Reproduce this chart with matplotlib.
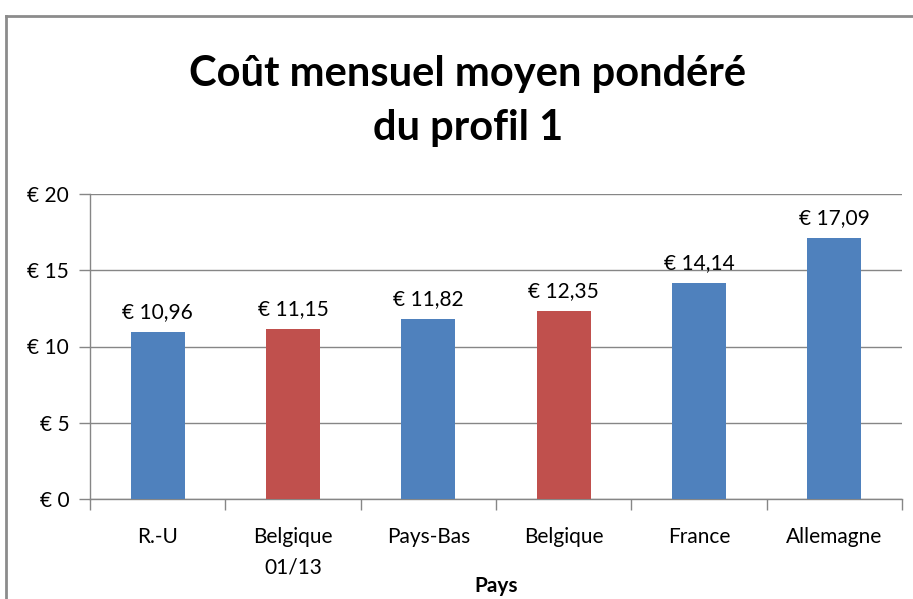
import matplotlib
matplotlib.use("Agg")
import matplotlib.pyplot as plt
from matplotlib.lines import Line2D
from matplotlib.ticker import FixedLocator, FuncFormatter

categories = ["R.-U", "Belgique\n01/13", "Pays-Bas", "Belgique", "France", "Allemagne"]
values = [10.96, 11.15, 11.82, 12.35, 14.14, 17.09]
colors = ["#4F81BD", "#C0504D", "#4F81BD", "#C0504D", "#4F81BD", "#4F81BD"]
yticks = [0, 5, 10, 15, 20]

plt.rcParams['font.family'] = ['Lato', 'DejaVu Sans']

fig = plt.figure(figsize=(9.13, 5.99), dpi=100)
ax = fig.add_axes([90/913, 1-499/599, (902-90)/913, (499-194)/599])

x = list(range(len(categories)))
ax.bar(x, values, width=0.4, color=colors, zorder=3)
for xi, v in zip(x, values):
    ax.text(xi, v + 0.65, "€ " + f"{v:.2f}".replace(".", ","), ha="center", va="bottom",
            fontsize=15, color="#000000")

ax.set_xlim(-0.5, len(categories) - 0.5)
ax.set_ylim(0, 20)
ax.set_yticks(yticks)
ax.yaxis.set_major_formatter(FuncFormatter(lambda v, p: f"€ {int(v)}"))
ax.set_xticks(x)
ax.set_xticklabels(categories, fontsize=15, linespacing=1.65)
ax.xaxis.set_minor_locator(FixedLocator([i - 0.5 for i in range(len(categories) + 1)]))
ax.tick_params(axis="x", which="major", length=0, pad=20)
ax.tick_params(axis="x", which="minor", length=8, color="#868686", width=1)
ax.tick_params(axis="y", length=8, color="#868686", width=1, labelsize=15, pad=7)

ax.grid(axis="y", color="#868686", linewidth=1, zorder=0)
for s in ["top", "right"]:
    ax.spines[s].set_visible(False)
for s in ["left", "bottom"]:
    ax.spines[s].set_color("#868686")
    ax.spines[s].set_linewidth(1)

ax.set_xlabel("Pays", fontsize=15, fontweight="bold", labelpad=-1)

fig.text(468/913, 1-101/599, "Coût mensuel moyen pondéré\ndu profil 1", ha="center", va="center",
         fontsize=30, fontweight="bold", linespacing=1.5)

# outer chart frame
fig.add_artist(Line2D([6/913, 6/913], [0, 1-16/599], color="#8c8c8c", linewidth=2, transform=fig.transFigure))
fig.add_artist(Line2D([6/913, 1], [1-16/599, 1-16/599], color="#8c8c8c", linewidth=2, transform=fig.transFigure))

fig.savefig("out.png", dpi=100)
